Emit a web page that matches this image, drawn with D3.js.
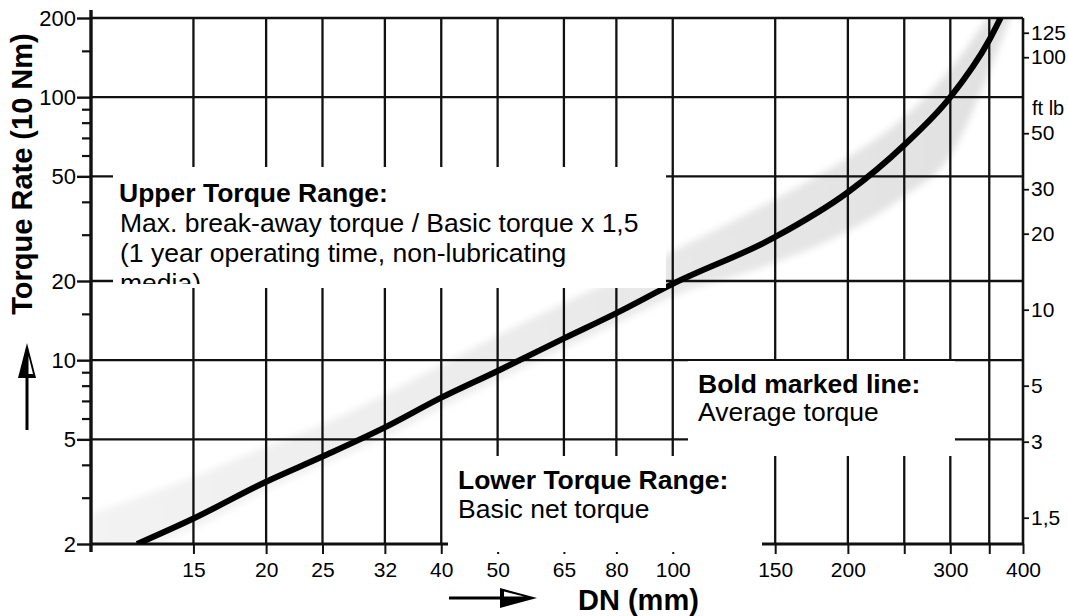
<!DOCTYPE html>
<html><head><meta charset="utf-8">
<script src="https://cdn.jsdelivr.net/npm/d3@7/dist/d3.min.js"></script>
<style>
body{margin:0;background:#fff;}
svg{display:block;}
text{font-family:Arial,"Liberation Sans",Helvetica,sans-serif;fill:#000;}
</style>
</head><body>
<svg id="c" width="1068" height="616"></svg>
<script>
// ---- data ----
const dnGrid = [15,20,25,32,40,50,65,80,100,150,200,250,300,350];
const dnTicks = [15,20,25,32,40,50,65,80,100,150,200,250,300,350,400];
const dnLabels = ["15","20","25","32","40","50","65","80","100","150","200","","300","","400"];
const torqueMajor = [200,100,50,20,10,5,2];
const torqueMinor = [150,90,80,70,60,40,30,15,9,8,7,6,4,3];
const ftlbTicks = [125,100,50,30,20,10,5,3,1.5];
const ftlbLabels = ["125","100","50","30","20","10","5","3","1,5"];
const avgDN     = [12, 15, 20, 25, 32, 40, 50, 65, 80, 100, 150, 200, 250, 300, 350, 366];
const avgTorque = [2.0, 2.5, 3.45, 4.3, 5.55, 7.2, 9.1, 12.1, 15.1, 19.5, 29.4, 43.5, 65.8, 100, 165, 200];
const bandDN   = [10, 12, 15, 20, 25, 32, 40, 50, 65, 80, 100, 150, 200, 250, 300, 350, 400];
const bandHigh = [2.6, 3.0, 3.6, 4.7, 5.7, 7.4, 9.6, 12.4, 16.5, 20.5, 26, 41, 59, 84, 128, 205, 320];
const bandLow  = [1.9, 1.95, 2.3, 3.2, 4.0, 5.1, 6.6, 8.4, 11.1, 13.8, 17.5, 23.5, 31, 42, 60, 125, 275];

// ---- scales ----
const x = d3.scaleLog().domain([10, 400]).range([91, 1023]);
const y = d3.scaleLog().domain([2, 200]).range([544, 18]);
const yR = d3.scaleLog().domain([1.18, 143]).range([544, 18]);

const svg = d3.select("#c");
const defs = svg.append("defs");
defs.append("clipPath").attr("id","plot").append("rect")
  .attr("x", x(10)).attr("y", y(200)).attr("width", x(400)-x(10)).attr("height", y(2)-y(200));
defs.append("filter").attr("id","blur").attr("x","-10%").attr("y","-10%").attr("width","120%").attr("height","120%")
  .append("feGaussianBlur").attr("stdDeviation", 3.5);
const grad = defs.append("linearGradient").attr("id","bandGrad").attr("x1","0%").attr("x2","100%").attr("y1","0%").attr("y2","0%");
grad.append("stop").attr("offset","0%").attr("stop-color","#f3f3f3");
grad.append("stop").attr("offset","50%").attr("stop-color","#eaeaea");
grad.append("stop").attr("offset","100%").attr("stop-color","#e0e0e0");

// ---- band ----
const bandData = bandDN.map((d,i)=>({dn:d, hi:bandHigh[i], lo:bandLow[i]}));
svg.append("g").attr("clip-path","url(#plot)")
  .append("path").datum(bandData)
  .attr("d", d3.area().x(d=>x(d.dn)).y0(d=>y(d.lo)).y1(d=>y(d.hi)).curve(d3.curveMonotoneX))
  .attr("fill","url(#bandGrad)").attr("filter","url(#blur)");

// ---- grid ----
const grid = svg.append("g").attr("stroke","#111").attr("stroke-width",2.3);
grid.selectAll("line.v").data(dnGrid).join("line")
  .attr("x1", d=>x(d)).attr("x2", d=>x(d)).attr("y1", y(200)).attr("y2", y(2));
grid.selectAll("line.h").data(torqueMajor.filter(d=>d!==2 && d!==200)).join("line")
  .attr("x1", x(10)).attr("x2", x(400)).attr("y1", d=>y(d)).attr("y2", d=>y(d));
// frame
svg.append("line").attr("x1",x(10)).attr("x2",x(400)).attr("y1",y(200)).attr("y2",y(200)).attr("stroke","#111").attr("stroke-width",2.6);
svg.append("line").attr("x1",x(400)).attr("x2",x(400)).attr("y1",y(200)).attr("y2",y(2)).attr("stroke","#111").attr("stroke-width",2.6);
svg.append("line").attr("x1",x(10)).attr("x2",x(400)).attr("y1",y(2)).attr("y2",y(2)).attr("stroke","#111").attr("stroke-width",3.2);
svg.append("line").attr("x1",x(10)).attr("x2",x(10)).attr("y1",y(200)-8).attr("y2",y(2)+8).attr("stroke","#111").attr("stroke-width",3.4);

// ---- average torque line ----
const avgData = avgDN.map((d,i)=>({dn:d, t:avgTorque[i]}));
svg.append("path").datum(avgData)
  .attr("d", d3.line().x(d=>x(d.dn)).y(d=>y(d.t)).curve(d3.curveMonotoneX))
  .attr("fill","none").attr("stroke","#000").attr("stroke-width",6).attr("stroke-linecap","butt")
  .attr("clip-path","url(#plot)");

// ---- axes ----
function styleAxis(g, fs){
  g.select(".domain").remove();
  g.selectAll(".tick line").attr("stroke","#111");
  g.selectAll(".tick text").attr("fill","#000").style("font-size", fs+"px")
   .style("font-family","Arial, 'Liberation Sans', Helvetica, sans-serif");
}
const gL = svg.append("g").attr("transform",`translate(${x(10)},0)`)
  .call(d3.axisLeft(y).tickValues(torqueMajor).tickSize(14).tickPadding(1).tickFormat(d3.format("d")));
styleAxis(gL, 22); gL.selectAll(".tick line").attr("stroke-width",2.4);
const gLm = svg.append("g").attr("transform",`translate(${x(10)},0)`)
  .call(d3.axisLeft(y).tickValues(torqueMinor).tickSize(9).tickFormat(""));
styleAxis(gLm, 10); gLm.selectAll(".tick line").attr("stroke-width",2.2);

const gB = svg.append("g").attr("transform",`translate(0,${y(2)})`)
  .call(d3.axisBottom(x).tickValues(dnTicks).tickSize(10).tickPadding(8).tickFormat((d,i)=>dnLabels[i]));
styleAxis(gB, 21); gB.selectAll(".tick line").attr("stroke-width",2);

const gR = svg.append("g").attr("transform",`translate(${x(400)},0)`)
  .call(d3.axisRight(yR).tickValues(ftlbTicks).tickSize(6).tickPadding(2).tickFormat((d,i)=>ftlbLabels[i]));
styleAxis(gR, 21); gR.selectAll(".tick line").attr("stroke-width",1.8);
svg.append("text").attr("x", x(400)+9).attr("y", 115).style("font-size","20px").text("ft lb");

// ---- axis titles ----
svg.append("text").attr("transform","translate(32,174) rotate(-90)")
  .attr("text-anchor","middle").style("font-size","29px").style("font-weight","bold")
  .text("Torque Rate (10 Nm)");
// vertical arrow
svg.append("line").attr("x1",27).attr("x2",27).attr("y1",430).attr("y2",372).attr("stroke","#000").attr("stroke-width",3);
svg.append("path").attr("d","M27,343 L18,378 L36,378 Z").attr("fill","#000");
svg.append("path").attr("d","M28.5,356 L28.5,374 L33,374 Z").attr("fill","#fff");

svg.append("text").attr("x",578).attr("y",610).style("font-size","29px").style("font-weight","bold").text("DN (mm)");
// horizontal arrow
svg.append("line").attr("x1",449).attr("x2",505).attr("y1",598).attr("y2",598).attr("stroke","#000").attr("stroke-width",3);
svg.append("path").attr("d","M537,598 L500,588 L500,608 Z").attr("fill","#000");
svg.append("path").attr("d","M524,596.5 L504,596.5 L504,591.5 Z").attr("fill","#fff");

// ---- annotation boxes ----
defs.append("clipPath").attr("id","clipU").append("rect").attr("x",113).attr("y",167).attr("width",553).attr("height",117);
const boxes = [
  {x:113, y:167, w:553, h:121},
  {x:688, y:361, w:267, h:95},
  {x:448, y:456, w:314, h:96}
];
svg.selectAll("rect.box").data(boxes).join("rect").attr("class","box")
  .attr("x",d=>d.x).attr("y",d=>d.y).attr("width",d=>d.w).attr("height",d=>d.h).attr("fill","#fff");

const gU = svg.append("g").attr("clip-path","url(#clipU)").style("font-size","26.5px");
gU.append("text").attr("x",119).attr("y",202).style("font-weight","bold").text("Upper Torque Range:");
gU.append("text").attr("x",120).attr("y",232).text("Max. break-away torque / Basic torque x 1,5");
gU.append("text").attr("x",120).attr("y",262).text("(1 year operating time, non-lubricating");
gU.append("text").attr("x",120).attr("y",292).text("media)");

const gBx = svg.append("g").style("font-size","26.5px");
gBx.append("text").attr("x",698).attr("y",393).style("font-weight","bold").text("Bold marked line:");
gBx.append("text").attr("x",698).attr("y",421).text("Average torque");
gBx.append("text").attr("x",458).attr("y",489).style("font-weight","bold").text("Lower Torque Range:");
gBx.append("text").attr("x",458).attr("y",518).text("Basic net torque");
</script>
</body></html>
